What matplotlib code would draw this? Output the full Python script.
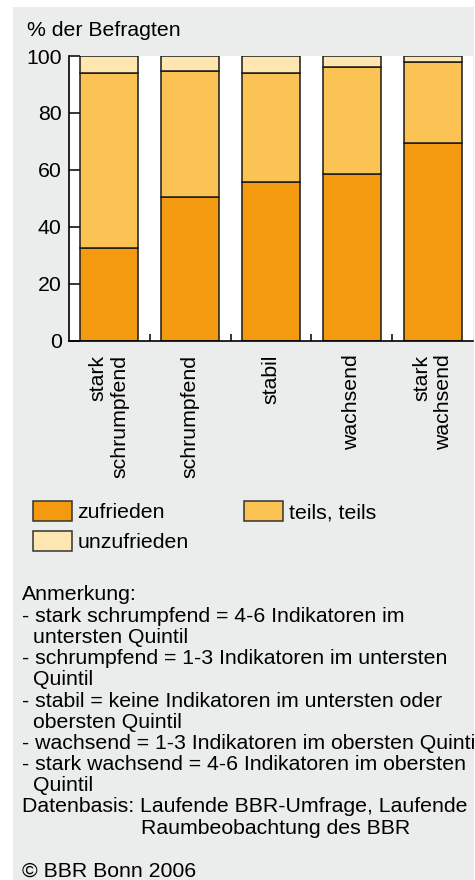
import matplotlib
matplotlib.use("Agg")
import matplotlib.pyplot as plt
from matplotlib.patches import Rectangle, Patch
import numpy as np

plt.rcParams['font.family'] = ['Liberation Sans', 'DejaVu Sans']

categories = ["stark\nschrumpfend", "schrumpfend", "stabil", "wachsend", "stark\nwachsend"]
zufrieden = [32.5, 50.5, 55.9, 58.4, 69.4]
teils_teils = [61.4, 44.2, 38.2, 37.7, 28.4]
unzufrieden = [6.1, 5.3, 5.9, 3.9, 2.2]
series_labels = ["zufrieden", "teils, teils", "unzufrieden"]
yticks = [0, 20, 40, 60, 80, 100]
ylabel = "% der Befragten"

note_lines = [
    (21.7, 600, "Anmerkung:"),
    (21.7, 621.7, "- stark schrumpfend = 4-6 Indikatoren im"),
    (33.3, 642.7, "untersten Quintil"),
    (21.7, 663.5, "- schrumpfend = 1-3 Indikatoren im untersten"),
    (33.3, 685, "Quintil"),
    (21.7, 706.5, "- stabil = keine Indikatoren im untersten oder"),
    (33.3, 727.7, "obersten Quintil"),
    (21.7, 748.5, "- wachsend = 1-3 Indikatoren im obersten Quintil"),
    (21.7, 770, "- stark wachsend = 4-6 Indikatoren im obersten"),
    (33.3, 791, "Quintil"),
    (21.7, 812.3, "Datenbasis: Laufende BBR-Umfrage, Laufende"),
    (140.7, 833.5, "Raumbeobachtung des BBR"),
    (21.7, 877, "© BBR Bonn 2006"),
]

W, H = 475, 880
c_zuf = "#F39A10"
c_teils = "#FBC254"
c_unz = "#FDE6AF"
bg = "#EBECEC"
FS = 15.3

fig = plt.figure(figsize=(W / 100, H / 100), dpi=100, facecolor="white")
fig.add_artist(Rectangle((13 / W, 0), (474 - 13) / W, 1 - 7 / H,
                         transform=fig.transFigure, facecolor=bg,
                         edgecolor="none", zorder=0))

ax = fig.add_axes([69 / W, 1 - 340.7 / H, (473 - 69) / W, (340.7 - 56) / H])
ax.set_facecolor("white")
x = np.arange(len(categories))
bw = 0.72
bottom2 = np.array(zufrieden)
bottom3 = bottom2 + np.array(teils_teils)
ax.bar(x, zufrieden, bw, color=c_zuf, edgecolor="#1a1a1a", linewidth=1.1, zorder=3)
ax.bar(x, teils_teils, bw, bottom=bottom2, color=c_teils, edgecolor="#1a1a1a", linewidth=1.1, zorder=3)
ax.bar(x, unzufrieden, bw, bottom=bottom3, color=c_unz, edgecolor="#1a1a1a", linewidth=1.1, zorder=3)

ax.set_xlim(-0.5, len(categories) - 0.5)
ax.set_ylim(0, 100)
ax.set_yticks(yticks)
ax.tick_params(axis="y", direction="in", length=8, width=1.1, labelsize=FS, pad=5.3)
ax.set_xticks(x)
ax.set_xticklabels(categories, rotation=90, fontsize=FS, va="top", ha="center")
for lab in ax.get_xticklabels():
    lab.set_multialignment("right")
ax.tick_params(axis="x", which="major", length=0, pad=10)
ax.set_xticks(x[:-1] + 0.5, minor=True)
ax.tick_params(axis="x", which="minor", direction="in", length=5, width=1.1)
for s in ["top", "right"]:
    ax.spines[s].set_visible(False)
for s in ["left", "bottom"]:
    ax.spines[s].set_linewidth(1.2)
    ax.spines[s].set_zorder(4)

fig.text(26.7 / W, 1 - 35.5 / H, ylabel, fontsize=FS, ha="left", va="baseline")

handles = [Patch(facecolor=c_zuf, edgecolor="#333333", linewidth=1.1),
           Patch(facecolor=c_unz, edgecolor="#333333", linewidth=1.1),
           Patch(facecolor=c_teils, edgecolor="#333333", linewidth=1.1)]
labels = [series_labels[0], series_labels[2], series_labels[1]]
fig.legend(handles, labels, ncol=2, loc="upper left",
           bbox_to_anchor=(33 / W, 1 - 501 / H), bbox_transform=fig.transFigure,
           frameon=False, borderpad=0, borderaxespad=0, fontsize=FS,
           handlelength=1.85, handleheight=1.1, handletextpad=0.25,
           columnspacing=2.6, labelspacing=0.4)

for xx, yy, t in note_lines:
    fig.text(xx / W, 1 - yy / H, t, fontsize=FS, ha="left", va="baseline")

fig.savefig("out.png", dpi=100, facecolor="white")
